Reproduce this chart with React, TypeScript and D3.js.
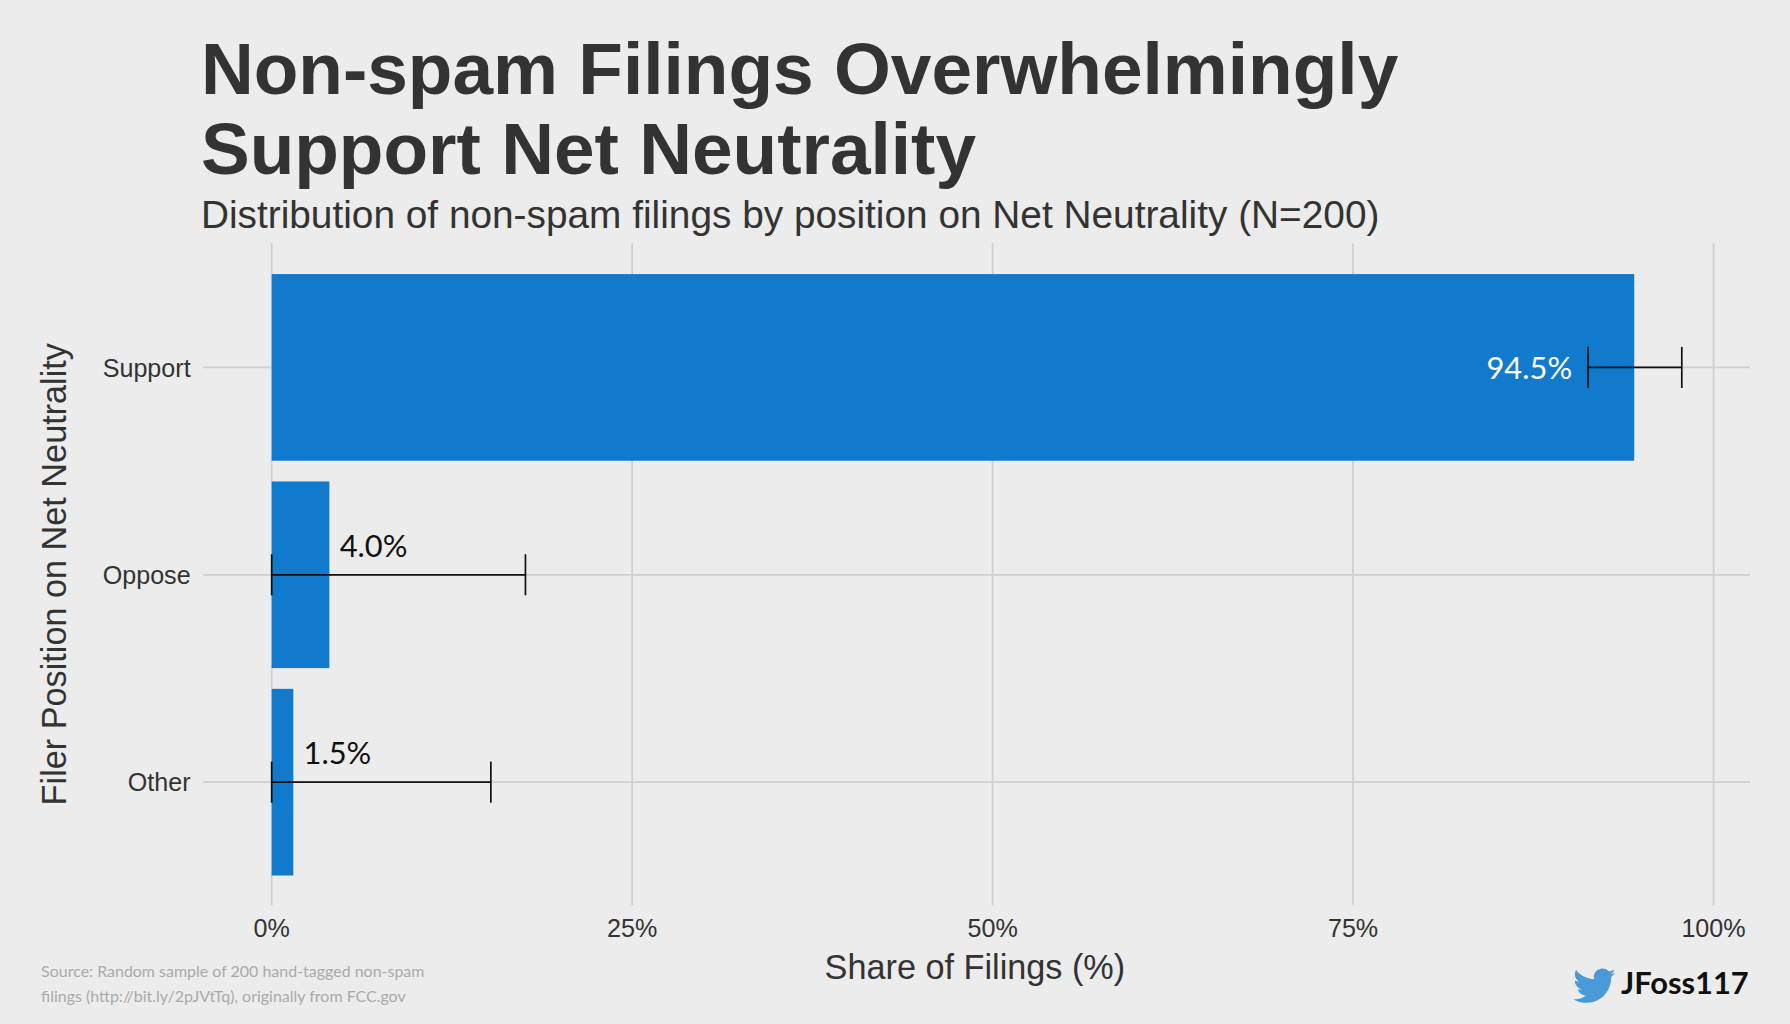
import React, { useEffect, useRef } from 'react';
import * as d3 from 'd3';

const categories = ['Support', 'Oppose', 'Other'];
const shares = [94.5, 4.0, 1.5];
const lowerCI = [91.3, 0, 0];
const upperCI = [97.8, 17.6, 15.2];
const xTicks = [0, 25, 50, 75, 100];

const App = () => {
  const ref = useRef<SVGSVGElement | null>(null);

  useEffect(() => {
    document.body.style.margin = '0';
    const svg = d3.select(ref.current);
    svg.selectAll('*').remove();

    svg.append('rect').attr('width', 1568).attr('height', 897).attr('fill', '#ececec');

    const x = d3.scaleLinear().domain([0, 100]).range([238, 1501]);
    const y = d3.scaleBand().domain(categories).range([231, 776]).paddingInner(0.1).paddingOuter(0.05);
    const grid = '#cfcfcf';
    const sans = '"Liberation Sans", Arial, sans-serif';
    const futura = 'Lato, "Open Sans", sans-serif';

    xTicks.forEach((t) => {
      svg.append('line').attr('x1', x(t)).attr('x2', x(t)).attr('y1', 213).attr('y2', 793).attr('stroke', grid).attr('stroke-width', 1.5);
      svg.append('text').attr('x', x(t)).attr('y', 821).attr('text-anchor', 'middle')
        .style('font-family', sans).style('font-size', '22px').attr('fill', '#333').text(`${t}%`);
    });
    categories.forEach((c) => {
      const cy = y(c)! + y.bandwidth() / 2;
      svg.append('line').attr('x1', 178).attr('x2', 1533).attr('y1', cy).attr('y2', cy).attr('stroke', grid).attr('stroke-width', 1.5);
      svg.append('text').attr('x', 167).attr('y', cy + 8).attr('text-anchor', 'end')
        .style('font-family', sans).style('font-size', '22px').attr('fill', '#333').text(c);
    });

    categories.forEach((c, i) => {
      const y0 = y(c)!;
      const cy = y0 + y.bandwidth() / 2;
      svg.append('rect').attr('x', x(0)).attr('y', y0).attr('width', x(shares[i]) - x(0)).attr('height', y.bandwidth()).attr('fill', '#117acd');
      const g = svg.append('g').attr('stroke', '#111').attr('stroke-width', 1.5);
      g.append('line').attr('x1', x(lowerCI[i])).attr('x2', x(upperCI[i])).attr('y1', cy).attr('y2', cy);
      [lowerCI[i], upperCI[i]].forEach((v) => {
        g.append('line').attr('x1', x(v)).attr('x2', x(v)).attr('y1', cy - 18).attr('y2', cy + 18);
      });
      const inside = shares[i] > 50;
      svg.append('text')
        .attr('x', inside ? x(lowerCI[i]) - 14 : x(shares[i]) + 9)
        .attr('y', inside ? cy + 10 : cy - 16)
        .attr('text-anchor', inside ? 'end' : 'start')
        .style('font-family', futura).style('font-size', '27px')
        .attr('fill', inside ? '#fff' : '#111').text(`${shares[i].toFixed(1)}%`);
    });

    svg.append('text').attr('x', 176).attr('y', 82).style('font-family', sans).style('font-weight', 'bold').style('font-size', '64px').attr('fill', '#333').text('Non-spam Filings Overwhelmingly');
    svg.append('text').attr('x', 176).attr('y', 152).style('font-family', sans).style('font-weight', 'bold').style('font-size', '64px').attr('fill', '#333').text('Support Net Neutrality');
    svg.append('text').attr('x', 176).attr('y', 200).style('font-family', sans).style('font-size', '34px').attr('fill', '#333').text('Distribution of non-spam filings by position on Net Neutrality (N=200)');

    svg.append('text').attr('x', 854).attr('y', 858).attr('text-anchor', 'middle').style('font-family', sans).style('font-size', '30px').attr('fill', '#333').text('Share of Filings (%)');
    svg.append('text').attr('transform', 'translate(58,503) rotate(-90)').attr('text-anchor', 'middle').style('font-family', sans).style('font-size', '30px').attr('fill', '#333').text('Filer Position on Net Neutrality');

    svg.append('text').attr('x', 36).attr('y', 856).style('font-family', futura).style('font-size', '14px').attr('fill', '#aaa').text('Source: Random sample of 200 hand-tagged non-spam');
    svg.append('text').attr('x', 36).attr('y', 878).style('font-family', futura).style('font-size', '14px').attr('fill', '#aaa').text('filings (http://bit.ly/2pJVtTq), originally from FCC.gov');

    // twitter bird
    svg.append('path')
      .attr('transform', 'translate(1378,845) scale(1.55)')
      .attr('fill', '#4a9ad9')
      .attr('d', 'M24 4.6c-.9.4-1.8.6-2.8.8 1-.6 1.8-1.6 2.2-2.7-1 .6-2 1-3.1 1.2C19.3 2.8 18 2.2 16.6 2.2c-2.7 0-4.9 2.2-4.9 4.9 0 .4 0 .8.1 1.1C7.7 8 4.1 6 1.7 3 1.2 3.7 1 4.6 1 5.5c0 1.7.9 3.2 2.2 4.1-.8 0-1.6-.2-2.2-.6v.1c0 2.4 1.7 4.4 3.9 4.8-.4.1-.8.2-1.3.2-.3 0-.6 0-.9-.1.6 2 2.4 3.4 4.6 3.4-1.7 1.3-3.8 2.1-6.1 2.1-.4 0-.8 0-1.2-.1 2.2 1.4 4.8 2.2 7.5 2.2 9.1 0 14-7.5 14-14v-.6c1-.7 1.8-1.6 2.5-2.5z');
    svg.append('text').attr('x', 1420).attr('y', 871).style('font-family', futura).style('font-weight', 'bold').style('font-size', '27px').attr('fill', '#111').text('JFoss117');
  }, []);

  return <svg ref={ref} width={1790} height={1024} viewBox="0 0 1568 897" style={{ display: 'block' }} />;
};

export default App;
